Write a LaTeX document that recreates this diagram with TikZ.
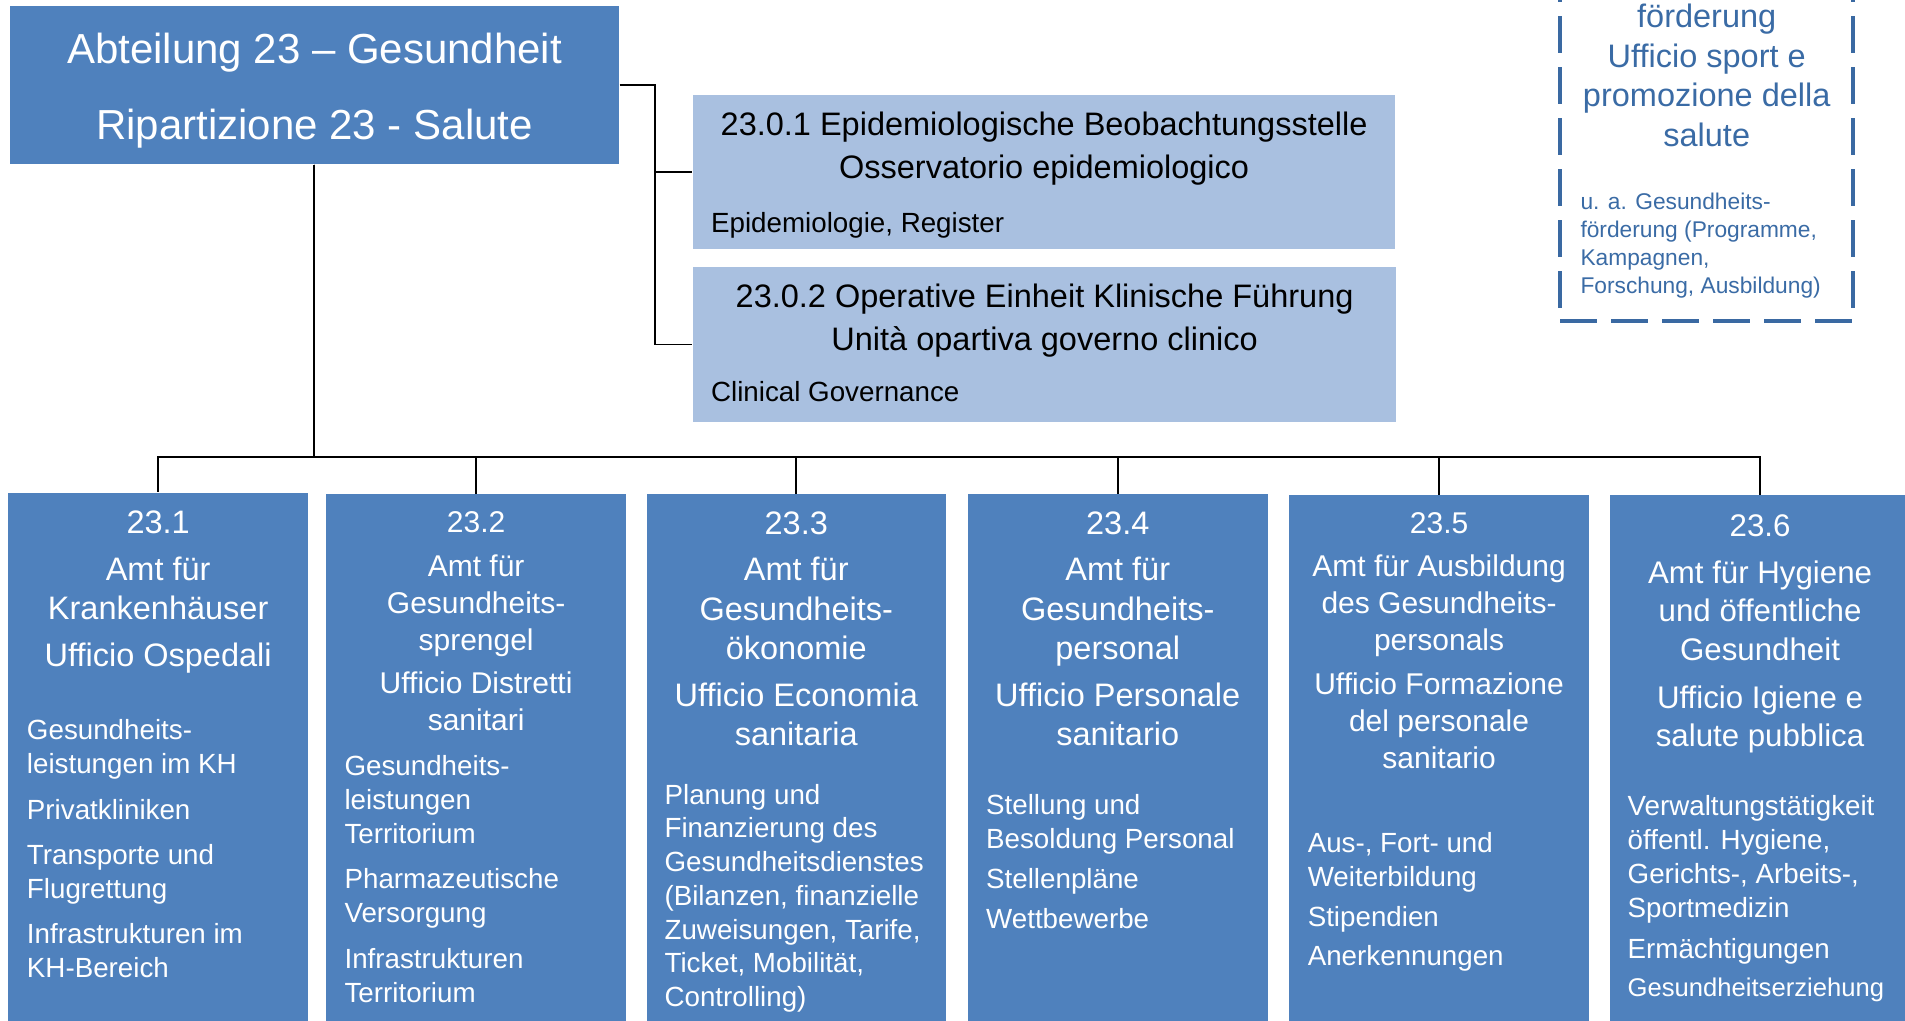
\documentclass[tikz,border=0pt]{standalone}
\usepackage{fontspec}
\setmainfont{Liberation Sans}[Ligatures=NoCommon]
\usetikzlibrary{fit}
\definecolor{mainblue}{HTML}{4F81BD}
\definecolor{lightblue}{HTML}{A9C0E0}
\definecolor{dashblue}{HTML}{3A69A2}
\definecolor{dashtext}{HTML}{3A6BA5}
\newcommand{\fstrut}{\rule{0pt}{1em}}
\begin{document}
\begin{tikzpicture}[x=0.486pt,y=-0.486pt,
  darkbox/.style={fill=mainblue, draw=none, inner sep=0pt},
  lightbox/.style={fill=lightblue, draw=none, inner sep=0pt},
  conn/.style={draw=black, line width=0.7pt},
  ttl/.style={inner sep=0pt, anchor=north, align=center, text=white},
  bdy/.style={inner sep=0pt, anchor=north west, align=left, text=white},
  tbig/.style={font=\fontsize{13}{15.6}\selectfont},
  tsmall/.style={font=\fontsize{12}{14.8}\selectfont},
  body/.style={font=\fontsize{11.1}{13.6}\selectfont},
]
\useasboundingbox (0,0) rectangle (1568,840);
\begin{scope}
\clip (0,0) rectangle (1568,840);

% boxes
\node[darkbox, fit={(8,5) (509.5,135)}] (main) {};
\node[lightbox, fit={(570,78.2) (1148.6,205.2)}] (b01) {};
\node[lightbox, fit={(570,220) (1149.4,347.1)}] (b02) {};
\node[darkbox, fit={(6.7,405.7) (253.6,850)}] (c1) {};
\node[darkbox, fit={(268.7,407) (515,850)}] (c2) {};
\node[darkbox, fit={(532.2,407) (778.6,850)}] (c3) {};
\node[darkbox, fit={(796.7,407) (1043.4,850)}] (c4) {};
\node[darkbox, fit={(1061,407.8) (1308,850)}] (c5) {};
\node[darkbox, fit={(1325.3,407.8) (1572,850)}] (c6) {};
\node[fit={(1284.3,-40) (1525.4,264)}, inner sep=0pt, draw=dashblue, line width=1.7pt,
      dash pattern=on 14.7pt off 5.7pt] (sport) {};

% connectors
\coordinate (jt) at (539.3,70);
\draw[conn] (main.east) -- (jt) |- (b01.west);
\draw[conn] (jt) |- (b02.west);
\path (main.south) ++(0,240.8) coordinate (bus);
\foreach \c in {c1,c2,c3,c4,c5,c6}{
  \draw[conn] (main.south) -- (bus) -| (\c.north);
}

% texts: head
\node[ttl, font=\fontsize{16.8}{30.4}\selectfont] (mt) at (258.9,17.5)
  {\fstrut Abteilung 23 – Gesundheit\\Ripartizione 23 - Salute};
\node[ttl, text=black, font=\fontsize{13}{17.3}\selectfont] (t01) at (859.4,84.5)
  {\fstrut 23.0.1 Epidemiologische Beobachtungsstelle\\Osservatorio epidemiologico};
\node[bdy, text=black, body] (d01) at (584.9,168.5) {\fstrut Epidemiologie, Register};
\node[ttl, text=black, font=\fontsize{13}{17.3}\selectfont] (t02) at (859.8,226)
  {\fstrut 23.0.2 Operative Einheit Klinische Führung\\Unità opartiva governo clinico};
\node[bdy, text=black, body] (d02) at (584.9,307.1) {\fstrut Clinical Governance};

% dashed box texts
\node[ttl, text=dashtext, font=\fontsize{13}{15.8}\selectfont] (st) at (1404.8,-4.2)
  {\fstrut förderung\\Ufficio sport e\\promozione della\\salute};
\node[bdy, text=dashtext, font=\fontsize{9.1}{11.2}\selectfont] (sb) at (1300.5,153.5)
  {\fstrut u. a. Gesundheits-\\förderung (Programme,\\Kampagnen,\\Forschung, Ausbildung)};

% 23.1
\node[ttl, font=\fontsize{13}{15.55}\selectfont] (t1) at (130.2,412.1)
  {\fstrut 23.1\\[3.3pt]Amt für\\Krankenhäuser\\[3.3pt]Ufficio Ospedali};
\node[bdy, body] (d1) at (21.8,585.7)
  {\fstrut Gesundheits-\\leistungen im KH\\[4.5pt]Privatkliniken\\[4.5pt]Transporte und\\Flugrettung\\[4.5pt]Infrastrukturen im\\KH-Bereich};

% 23.2
\node[ttl, tsmall] (t2) at (391.9,413.5)
  {\fstrut 23.2\\[2.5pt]Amt für\\Gesundheits-\\sprengel\\[2.4pt]Ufficio Distretti\\sanitari};
\node[bdy, body] (d2) at (283.2,614.9)
  {\fstrut Gesundheits-\\leistungen\\Territorium\\[4.6pt]Pharmazeutische\\Versorgung\\[4.6pt]Infrastrukturen\\Territorium};

% 23.3
\node[ttl, font=\fontsize{13}{15.7}\selectfont] (t3) at (655.4,412.8)
  {\fstrut 23.3\\[2.8pt]Amt für\\Gesundheits-\\ökonomie\\[3.2pt]Ufficio Economia\\sanitaria};
\node[bdy, font=\fontsize{11.1}{13.5}\selectfont] (d3) at (546.6,638.6)
  {\fstrut Planung und\\Finanzierung des\\Gesundheitsdienstes\\(Bilanzen, finanzielle\\Zuweisungen, Tarife,\\Ticket, Mobilität,\\Controlling)};

% 23.4
\node[ttl, font=\fontsize{13}{15.7}\selectfont] (t4) at (920,412.8)
  {\fstrut 23.4\\[2.8pt]Amt für\\Gesundheits-\\personal\\[3.2pt]Ufficio Personale\\sanitario};
\node[bdy, body] (d4) at (811.3,646.8)
  {\fstrut Stellung und\\Besoldung Personal\\[2.5pt]Stellenpläne\\[2.5pt]Wettbewerbe};

% 23.5
\node[ttl, tsmall] (t5) at (1184.5,414.2)
  {\fstrut 23.5\\[2.2pt]Amt für Ausbildung\\des Gesundheits-\\personals\\[3pt]Ufficio Formazione\\del personale\\sanitario};
\node[bdy, body] (d5) at (1076,678.1)
  {\fstrut Aus-, Fort- und\\Weiterbildung\\[2.7pt]Stipendien\\[2pt]Anerkennungen};

% 23.6
\node[ttl, font=\fontsize{12.5}{15.4}\selectfont] (t6) at (1448.7,415.6)
  {\fstrut 23.6\\[3.2pt]Amt für Hygiene\\und öffentliche\\Gesundheit\\[3.8pt]Ufficio Igiene e\\salute pubblica};
\node[bdy, body] (d6) at (1339.3,648.3)
  {\fstrut Verwaltungstätigkeit\\öffentl. Hygiene,\\Gerichts-, Arbeits-,\\Sportmedizin\\[2.7pt]Ermächtigungen\\[1.5pt]{\fontsize{10.25}{13.6}\selectfont Gesundheitserziehung}};
\end{scope}
\end{tikzpicture}
\end{document}
